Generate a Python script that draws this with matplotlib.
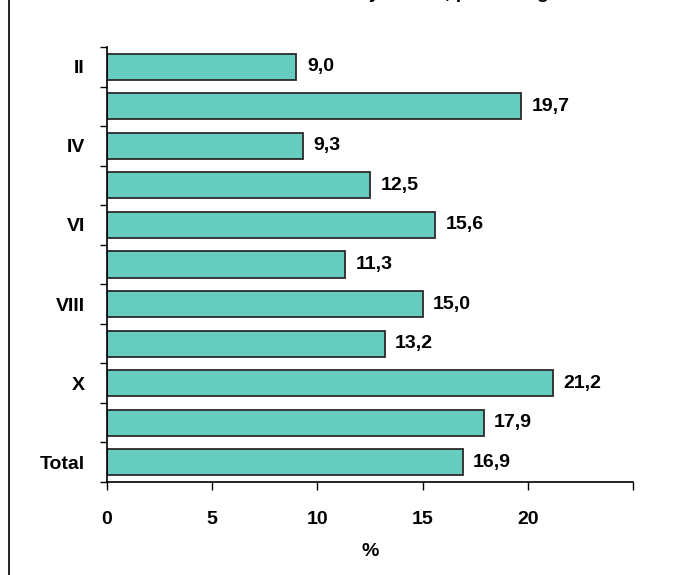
import matplotlib.pyplot as plt
from matplotlib.lines import Line2D
import numpy as np

plt.rcParams['font.family'] = ['Liberation Sans', 'DejaVu Sans']
plt.rcParams['font.weight'] = 'bold'
plt.rcParams['axes.labelweight'] = 'bold'

# categories (top to bottom) and values in %
months = ['II', 'III', 'IV', 'V', 'VI', 'VII', 'VIII', 'IX', 'X', 'XI', 'Total']
values = [9.0, 19.7, 9.3, 12.5, 15.6, 11.3, 15.0, 13.2, 21.2, 17.9, 16.9]
shown = ['II', 'IV', 'VI', 'VIII', 'X', 'Total']

W, H = 686, 575
fig = plt.figure(figsize=(W / 100, H / 100), dpi=100)
ax = fig.add_axes([107 / W, 1 - 482 / H, (633 - 107) / W, (482 - 47) / H])

pos = np.arange(len(months))
ax.barh(pos, values, height=0.66, color='#66CCC0', edgecolor='#2a2a2a', linewidth=1.3)
for p, v in zip(pos, values):
    ax.text(v + 0.5, p, f'{v:.1f}'.replace('.', ','), va='center', ha='left', fontsize=14)

ax.set_ylim(len(months) - 0.5, -0.5)
ax.set_xlim(0, 25)

# y: labels only on every other month, ticks between categories
ax.set_yticks(pos)
ax.set_yticklabels([m if m in shown else '' for m in months], fontsize=14)
ax.tick_params(axis='y', length=0, pad=16)
ax.set_yticks(np.arange(-0.5, len(months), 1), minor=True)
ax.tick_params(axis='y', which='minor', length=5, width=1, direction='out')

ax.set_xticks([0, 5, 10, 15, 20, 25])
ax.set_xticklabels(['0', '5', '10', '15', '20', ''], fontsize=14)
ax.tick_params(axis='x', length=6, width=1, direction='out', pad=15)
ax.set_xlabel('%', fontsize=14, labelpad=11)

for s in ['top', 'right']:
    ax.spines[s].set_visible(False)
for s in ['left', 'bottom']:
    ax.spines[s].set_linewidth(1.2)

# frame line on the left edge and clipped title at the top
fig.add_artist(Line2D([9 / W, 9 / W], [0, 1], color='black', linewidth=1.2))
fig.text(357 / W, 1 + 2 / H, 'by month, percentage', ha='left', va='baseline',
         fontsize=14)

fig.savefig('out.png', dpi=100)
